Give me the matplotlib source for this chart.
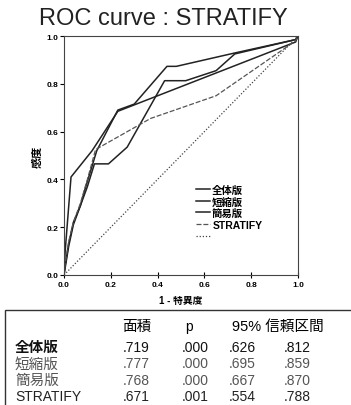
import matplotlib.pyplot as plt
from matplotlib.patches import Rectangle

plt.rcParams['font.family'] = ['Liberation Sans', 'Noto Sans CJK JP']

# ROC curves
x_zentai = [0, 0.005, 0.02, 0.04, 0.07, 0.10, 0.13, 0.19, 0.27, 0.43, 0.52, 0.65, 0.73, 0.99, 1.0]
y_zentai = [0, 0.03, 0.12, 0.21, 0.29, 0.37, 0.465, 0.465, 0.535, 0.813, 0.813, 0.855, 0.925, 0.985, 1.0]

x_tanshuku = [0, 0.005, 0.02, 0.04, 0.07, 0.09, 0.14, 0.23, 0.30, 0.44, 0.48, 0.73, 0.99, 1.0]
y_tanshuku = [0, 0.04, 0.13, 0.22, 0.29, 0.36, 0.52, 0.69, 0.715, 0.873, 0.873, 0.929, 0.985, 1.0]

x_kani = [0, 0.005, 0.03, 0.12, 0.23, 0.99, 1.0]
y_kani = [0, 0.10, 0.41, 0.52, 0.685, 0.975, 1.0]

x_strat = [0, 0.005, 0.02, 0.04, 0.07, 0.10, 0.135, 0.37, 0.65, 0.99, 1.0]
y_strat = [0, 0.05, 0.14, 0.22, 0.30, 0.40, 0.525, 0.655, 0.75, 0.98, 1.0]

ticks = [0.0, 0.2, 0.4, 0.6, 0.8, 1.0]

# table
row_names = ['全体版', '短縮版', '簡易版', 'STRATIFY']
area = ['.719', '.777', '.768', '.671']
pval = ['.000', '.000', '.000', '.001']
ci_low = ['.626', '.695', '.667', '.554']
ci_high = ['.812', '.859', '.870', '.788']

W, H = 351, 406
fig = plt.figure(figsize=(W / 100, H / 100), dpi=100)
ax = fig.add_axes([64 / W, 1 - 276 / H, 234 / W, 239 / H])

ax.plot(x_zentai, y_zentai, color='#222222', lw=1.1, label='全体版')
ax.plot(x_tanshuku, y_tanshuku, color='#222222', lw=1.1, label='短縮版')
ax.plot(x_kani, y_kani, color='#222222', lw=1.1, label='簡易版')
ax.plot(x_strat, y_strat, color='#555555', lw=0.9, ls=(0, (4, 1.5)), label='STRATIFY')
ax.plot([0, 1], [0, 1], color='#444444', lw=0.9, ls=(0, (1, 1.5)), label=' ')

ax.set_xlim(0, 1)
ax.set_ylim(0, 1)
ax.set_xticks(ticks)
ax.set_yticks(ticks)
ax.set_xticklabels(['%.1f' % t for t in ticks], fontsize=6, fontweight='bold')
ax.set_yticklabels(['%.1f' % t for t in ticks], fontsize=6, fontweight='bold')
ax.tick_params(axis='x', direction='inout', length=4, width=0.8, pad=2)
ax.tick_params(axis='y', direction='out', length=3, width=0.8, pad=1)
for s in ax.spines.values():
    s.set_color('#444444')
    s.set_linewidth(0.8)

ax.set_ylabel('感度', fontsize=8, fontweight='bold', labelpad=3)
ax.set_xlabel('1 - 特異度', fontsize=7, fontweight='bold', labelpad=5)

leg = ax.legend(loc='upper left', bbox_to_anchor=(0.54, 0.40), frameon=False,
                fontsize=7.5, handlelength=1.4, handletextpad=0.2,
                labelspacing=0.15, borderpad=0)
for t in leg.get_texts():
    t.set_fontweight('bold')

fig.text(163 / W, 1 - 19 / H, 'ROC curve : STRATIFY', fontsize=17,
         ha='center', va='center', color='#222222')

# table box
fig.patches.append(Rectangle((5 / W, -0.05), 1.0, (H - 311) / H + 0.05,
                             transform=fig.transFigure, fill=False,
                             edgecolor='#333333', lw=1.0))

fs = 10
fj = 10.5
hy = 1 - 327 / H
fig.text(137 / W, hy, '面積', fontsize=fj, ha='center', va='center')
fig.text(185 / W, hy, 'p', fontsize=fs, ha='left', va='center')
fig.text(232 / W, hy, '95% 信頼区間', fontsize=fj, ha='left', va='center')

row_y = [348, 364.5, 381, 397]
row_col = ['#111111', '#555555', '#555555', '#222222']
row_w = ['bold', 'normal', 'normal', 'normal']
for i in range(len(row_names)):
    y = 1 - row_y[i] / H
    c = row_col[i]
    fig.text(15 / W, y, row_names[i], fontsize=fj if i < 3 else fs,
             fontweight=row_w[i], ha='left', va='center', color=c)
    fig.text(136 / W, y, area[i], fontsize=fs, ha='center', va='center', color=c)
    fig.text(195 / W, y, pval[i], fontsize=fs, ha='center', va='center', color=c)
    fig.text(242 / W, y, ci_low[i], fontsize=fs, ha='center', va='center', color=c)
    fig.text(297 / W, y, ci_high[i], fontsize=fs, ha='center', va='center', color=c)

fig.savefig('out.png', dpi=100)
